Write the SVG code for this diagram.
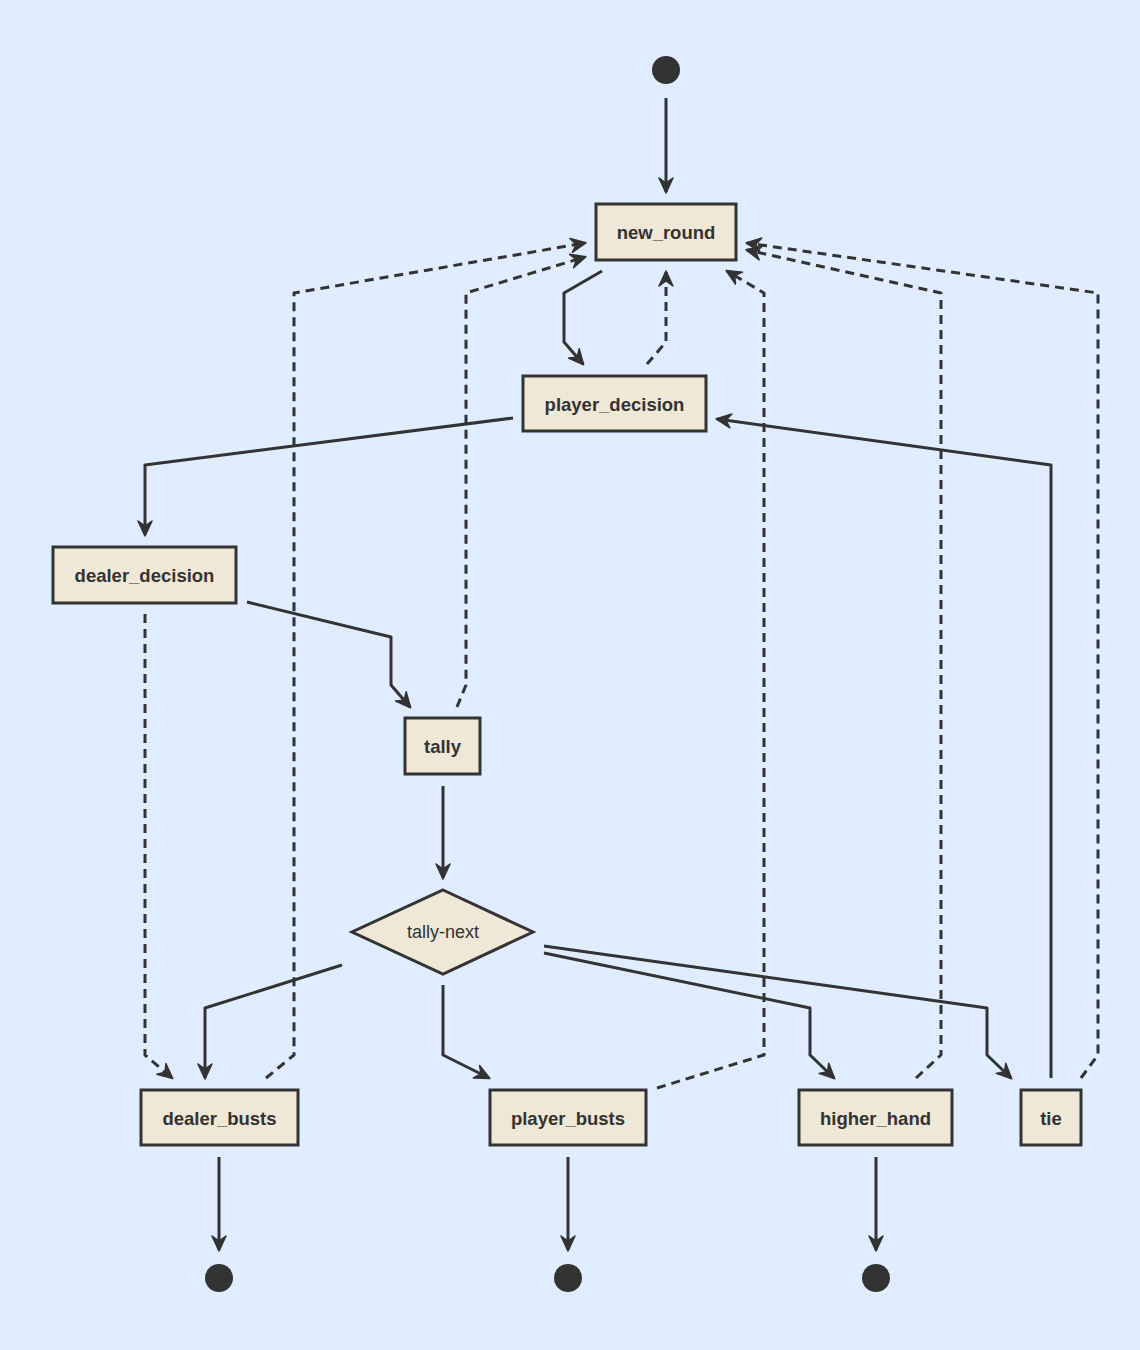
<svg xmlns="http://www.w3.org/2000/svg" width="1140" height="1350" viewBox="0 0 1140 1350">
<style>
.bg{fill:#E0ECFF}
.box{fill:#EFE8D6;stroke:#333;stroke-width:3}
.lbl{font-family:"Liberation Sans",Arial,sans-serif;font-size:18.5px;font-weight:bold;fill:#333;text-anchor:middle;dominant-baseline:central}
.dlbl{font-family:"Liberation Sans",Arial,sans-serif;font-size:18px;fill:#333;text-anchor:middle;dominant-baseline:central}
.dot{fill:#333}
.e{fill:none;stroke:#333;stroke-width:3;stroke-linejoin:round;marker-end:url(#arr)}
.d{stroke-dasharray:9 6}
</style>
<defs>
<marker id="arr" markerUnits="userSpaceOnUse" viewBox="0 0 18 18" refX="15" refY="9" markerWidth="18" markerHeight="18" orient="auto">
<path d="M1,2 L16,9 L1,16 L6,9 z" fill="#333" stroke="#333" stroke-width="1.5" stroke-linejoin="round"/>
</marker>
</defs>
<rect class="bg" x="0" y="0" width="1140" height="1350"/>
<g id="connectors">
<polyline class="e" points="666,98 666,192"/>
<polyline class="e" points="602,271 564,293 564,342 583,364"/>
<polyline class="e d" points="647,364 666,342 666,272"/>
<polyline class="e" points="513,418 145,465 145,535"/>
<polyline class="e" points="247,602 391,637 391,685 410,707"/>
<polyline class="e d" points="145,614 145,1055 172,1078"/>
<polyline class="e d" points="457,707 466,685 466,293 585,257"/>
<polyline class="e d" points="266,1078 294,1055 294,293 585,243"/>
<polyline class="e" points="443,786 443,878"/>
<polyline class="e" points="342,965 205,1008 205,1078"/>
<polyline class="e" points="443,985 443,1055 489,1078"/>
<polyline class="e" points="544,953 810,1008 810,1055 834,1078"/>
<polyline class="e" points="544,946 987,1008 987,1055 1011,1078"/>
<polyline class="e d" points="657,1088 764,1055 764,293 727,271"/>
<polyline class="e d" points="916,1078 941,1055 941,293 747,250"/>
<polyline class="e d" points="1081,1078 1098,1055 1098,293 747,243"/>
<polyline class="e" points="1051,1078 1051,465 717,419"/>
<polyline class="e" points="219,1157 219,1250"/>
<polyline class="e" points="568,1157 568,1250"/>
<polyline class="e" points="876,1157 876,1250"/>
</g>
<g id="start"><circle class="dot" cx="666" cy="70" r="14"/></g>
<g id="new_round"><rect class="box" x="596" y="204" width="140" height="56"/><text class="lbl" x="666" y="232">new_round</text></g>
<g id="player_decision"><rect class="box" x="523" y="376" width="183" height="55"/><text class="lbl" x="614.5" y="404">player_decision</text></g>
<g id="dealer_decision"><rect class="box" x="53" y="547" width="183" height="56"/><text class="lbl" x="144.5" y="575">dealer_decision</text></g>
<g id="tally"><rect class="box" x="405" y="718" width="75" height="56"/><text class="lbl" x="442.5" y="746">tally</text></g>
<g id="tally-next"><polygon class="box" points="443,890 533,932 443,974 352,932"/><text class="dlbl" x="443" y="932">tally-next</text></g>
<g id="dealer_busts"><rect class="box" x="141" y="1090" width="157" height="55"/><text class="lbl" x="219.5" y="1118">dealer_busts</text></g>
<g id="player_busts"><rect class="box" x="490" y="1090" width="156" height="55"/><text class="lbl" x="568" y="1118">player_busts</text></g>
<g id="higher_hand"><rect class="box" x="799" y="1090" width="153" height="55"/><text class="lbl" x="875.5" y="1118">higher_hand</text></g>
<g id="tie"><rect class="box" x="1021" y="1090" width="60" height="55"/><text class="lbl" x="1051" y="1118">tie</text></g>
<g id="end1"><circle class="dot" cx="219" cy="1278" r="14"/></g>
<g id="end2"><circle class="dot" cx="568" cy="1278" r="14"/></g>
<g id="end3"><circle class="dot" cx="876" cy="1278" r="14"/></g>
</svg>
